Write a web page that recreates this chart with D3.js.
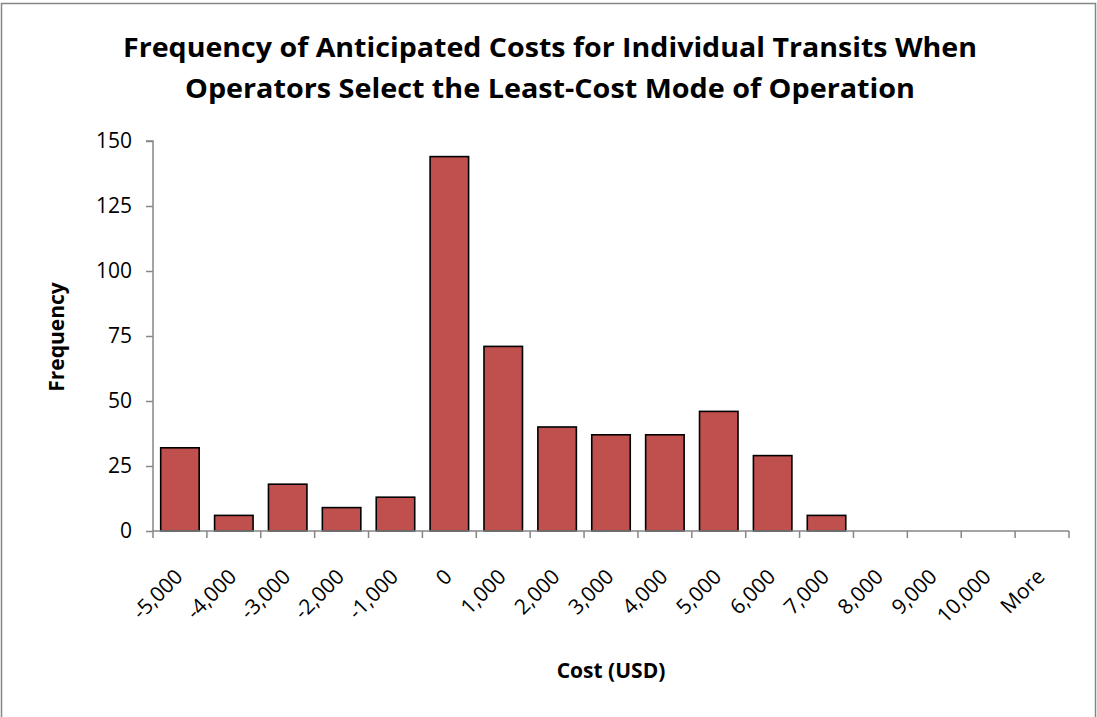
<!DOCTYPE html>
<html><head><meta charset="utf-8">
<script src="https://cdn.jsdelivr.net/npm/d3@7"></script>
<style>html,body{margin:0;padding:0;background:#fff;}svg{display:block;}</style>
</head><body>
<script>
const categories = ["-5,000","-4,000","-3,000","-2,000","-1,000","0","1,000","2,000","3,000","4,000","5,000","6,000","7,000","8,000","9,000","10,000","More"];
const frequencies = [32,6,18,9,13,144,71,40,37,37,46,29,6,0,0,0,0];
const yTicks = [0,25,50,75,100,125,150];
const titleLines = ["Frequency of Anticipated Costs for Individual Transits When","Operators Select the Least-Cost Mode of Operation"];

const W = 1097, H = 717;
const font = "'Open Sans', 'Liberation Sans', sans-serif";
const svg = d3.select("body").append("svg").attr("width", W).attr("height", H);
svg.append("rect").attr("x",1.5).attr("y",3.5).attr("width",1094).attr("height",H+10)
  .attr("fill","#fff").attr("stroke","#868686").attr("stroke-width",1.5);

const m = {left:153, right:1069, top:141, bottom:531};
const x = d3.scaleBand().domain(categories).range([m.left, m.right]).paddingInner(0.4/1.4).paddingOuter(0.2/1.4);
const y = d3.scaleLinear().domain([0,150]).range([m.bottom, m.top]);

// bars
svg.append("g").selectAll("rect").data(frequencies.map((v,i)=>({c:categories[i],v})).filter(d=>d.v>0))
  .join("rect")
  .attr("x", d=>x(d.c)).attr("width", x.bandwidth())
  .attr("y", d=>y(d.v)).attr("height", d=>y(0)-y(d.v))
  .attr("fill","#C0504D").attr("stroke","#000").attr("stroke-width",1.6);

// y axis
const ya = svg.append("g").attr("transform",`translate(${m.left},0)`)
  .call(d3.axisLeft(y).tickValues(yTicks).tickSize(7).tickPadding(14).tickFormat(d3.format("d")));
ya.select(".domain").attr("stroke","#868686").attr("stroke-width",1.5).attr("d",`M-7,${m.top}H0V${m.bottom}`);
ya.selectAll(".tick line").attr("stroke","#868686").attr("stroke-width",1.5);
ya.selectAll(".tick text").attr("font-family",font).attr("font-size",21).attr("fill","#000");

// x axis
const tickPos = d3.range(categories.length+1).map(i => m.left + i*(m.right-m.left)/categories.length);
const xa = svg.append("g");
xa.append("line").attr("x1",m.left).attr("x2",m.right).attr("y1",m.bottom).attr("y2",m.bottom)
  .attr("stroke","#868686").attr("stroke-width",1.5);
xa.selectAll("line.t").data(tickPos).join("line").attr("class","t")
  .attr("x1",d=>d).attr("x2",d=>d).attr("y1",m.bottom).attr("y2",m.bottom+7)
  .attr("stroke","#868686").attr("stroke-width",1.5);
xa.selectAll("text").data(categories).join("text")
  .attr("transform", d=>`translate(${x(d)+x.bandwidth()/2+4},${m.bottom+47}) rotate(-45)`)
  .attr("text-anchor","end").attr("font-family",font).attr("font-size",21).attr("fill","#000")
  .text(d=>d);

// titles
svg.selectAll("text.title").data(titleLines).join("text").attr("class","title")
  .attr("x",550).attr("y",(d,i)=>57+i*41).attr("text-anchor","middle")
  .attr("font-family",font).attr("font-weight","bold").attr("font-size",26).attr("fill","#000")
  .attr("textLength",(d,i)=>i===0?854:730).attr("lengthAdjust","spacingAndGlyphs")
  .text(d=>d);

svg.append("text").attr("transform","translate(64,337) rotate(-90)").attr("text-anchor","middle")
  .attr("font-family",font).attr("font-weight","bold").attr("font-size",21).attr("fill","#000").text("Frequency");
svg.append("text").attr("x",611).attr("y",678).attr("text-anchor","middle")
  .attr("font-family",font).attr("font-weight","bold").attr("font-size",21).attr("fill","#000").text("Cost (USD)");
</script>
</body></html>
